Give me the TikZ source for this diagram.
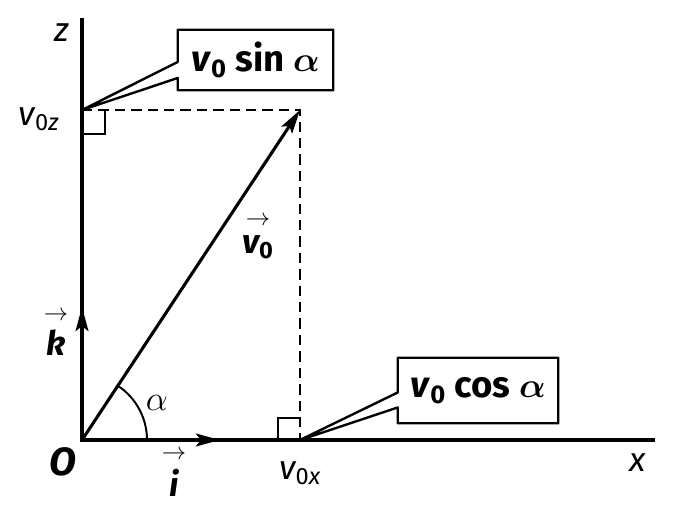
\documentclass[tikz,border=0pt]{standalone}
\usepackage{amsmath, amssymb}
\usepackage{bm}
\usepackage{fontspec}
\setmainfont{Fira Sans}
\usetikzlibrary{arrows.meta}
\usetikzlibrary{angles}
\newcommand{\vecup}[1]{\ensuremath{\overset{\raisebox{2pt}{$\scriptstyle\rightarrow$}}{\mbox{#1}}}}
\newcommand{\vnull}[1]{\textit{v}\textsubscript{\textup{0}#1}}
\tikzset{
        % Axes and vectors
        line_axis/.style={line width=2.2pt},
        line_vec/.style={line width=2.2pt, -{Stealth[length=0.6cm, width=0.32cm, inset=0.12cm]}},
        % Projection lines
        line_dashed/.style={line width=1.9pt, dash pattern=on 0.26cm off 0.15cm},
        % Right angle marks and angle arc
        line_mark/.style={line width=1.4pt},
        % Callout outline
        line_box/.style={line width=1.7pt, line join=round},
        % Labels
        label_axis/.style={inner sep=0pt, font=\fontsize{24}{28}\selectfont\itshape},
        label_vec/.style={inner sep=0pt, font=\fontsize{24}{28}\selectfont\bfseries\itshape},
        box_text/.style={inner sep=0pt, font=\fontsize{26}{30}\selectfont\bfseries}
}
\begin{document}
\begin{tikzpicture}[x=0.025cm, y=0.025cm]
            \useasboundingbox (0,0) rectangle (680,508);
            % Points
            \coordinate (O) at (82,68);
            \coordinate (z_end) at (82,490);
            \coordinate (x_end) at (655,68);
            \coordinate (v0z_pt) at (82,398);
            \coordinate (v0x_pt) at (300,68);
            \coordinate (v0_tip) at (300,398);
            \coordinate (k_tip) at (82,201);
            \coordinate (i_tip) at (220,68);
            % Projections
            \draw[line_dashed] (v0z_pt) -- (v0_tip) -- (v0x_pt);
            % Axes
            \draw[line_axis] (z_end) -- (O) -- (x_end);
            \draw[line_vec] (O) -- (k_tip);
            \draw[line_vec] (O) -- (i_tip);
            \draw[line_vec] (O) -- (v0_tip);
            % Right angles
            \draw[line_mark] ([shift={(23,0)}]v0z_pt) |- ([shift={(0,-24)}]v0z_pt);
            \draw[line_mark] ([shift={(-22,0)}]v0x_pt) |- ([shift={(0,22)}]v0x_pt);
            % Angle
            \pic[draw, line_mark, angle radius=1.625cm] {angle = x_end--O--v0_tip};
            % Callouts
            \node[box_text, minimum width=3.875cm, minimum height=1.5cm] (box_sin) at (255.5,448) {\vnull{} sin $\bm{\alpha}$};
            \draw[line_box] (box_sin.south west) -- ([shift={(0,-18)}]box_sin.west) -- (v0z_pt)
                -- ([shift={(0,-2)}]box_sin.west) -- (box_sin.north west) -- (box_sin.north east)
                -- (box_sin.south east) -- cycle;
            \node[box_text, minimum width=4cm, minimum height=1.625cm] (box_cos) at (478,117.5) {\vnull{} cos $\bm{\alpha}$};
            \draw[line_box] (box_cos.south west) -- ([shift={(0,-17)}]box_cos.west) -- (v0x_pt)
                -- ([shift={(0,-2)}]box_cos.west) -- (box_cos.north west) -- (box_cos.north east)
                -- (box_cos.south east) -- cycle;
            % Labels
            \node[label_axis] (lbl_z) at (62,475) {z};
            \node[label_axis] (lbl_x) at (638,45) {x};
            \node[label_axis] (lbl_v0z) at (39,389) {\vnull{\textit{z}}};
            \node[label_axis] (lbl_v0x) at (300,35) {\vnull{\textit{x}}};
            \node[label_vec, font=\fontsize{28}{32}\selectfont\bfseries\itshape] (lbl_O) at (63,46) {O};
            \node[label_vec] (lbl_k) at (56,176) {\vecup{k}};
            \node[label_vec] (lbl_i) at (174,36) {\vecup{i}};
            \node[label_vec] (lbl_v0) at (258,272) {\vecup{\vnull{}}};
            \node[label_axis, font=\fontsize{24}{28}\selectfont] (lbl_alpha) at (157,105) {$\alpha$};
\end{tikzpicture}
\end{document}
